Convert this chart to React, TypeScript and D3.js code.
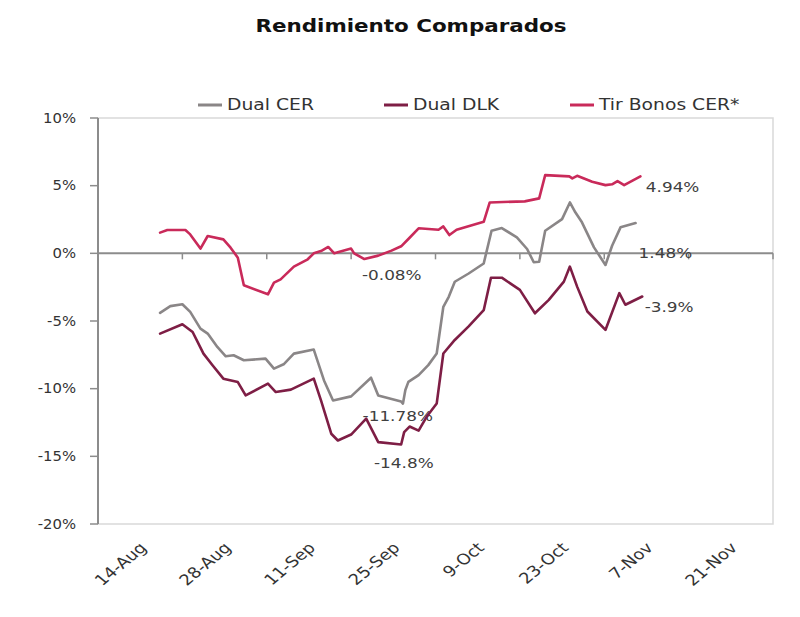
import React from 'react';
import * as d3 from 'd3';

// x values are days counted from 14-Aug
const xTickLabels = ['14-Aug', '28-Aug', '11-Sep', '25-Sep', '9-Oct', '23-Oct', '7-Nov', '21-Nov'];
const yTickValues = [10, 5, 0, -5, -10, -15, -20];

const tirDays = [3.3, 4.5, 7.5, 8.3, 10, 11.2, 13.8, 15, 16.2, 17.2, 21.2, 22.2, 23.3, 25.5, 27.8, 28.8, 30, 31.2, 32.2, 35, 35.5, 37.2, 39.5, 41.7, 43.3, 44.5, 46.2, 49.5, 50.3, 51.3, 52.5, 57, 58, 63.8, 66.2, 67.2, 71.2, 71.7, 72.5, 75, 77.2, 78.3, 79.2, 80.3, 83];
const tirValues = [1.53, 1.72, 1.72, 1.4, 0.35, 1.28, 1.03, 0.42, -0.32, -2.36, -3.03, -2.16, -1.92, -0.98, -0.44, 0, 0.17, 0.47, 0, 0.35, 0, -0.42, -0.17, 0.2, 0.52, 1.06, 1.85, 1.74, 1.99, 1.35, 1.74, 2.33, 3.76, 3.84, 4.06, 5.78, 5.69, 5.54, 5.73, 5.29, 5.04, 5.1, 5.34, 5.04, 5.69];

const cerDays = [3.3, 5, 7, 8.3, 10, 11.2, 12.8, 14.2, 15.5, 17.2, 20.8, 22.2, 23.8, 25.5, 28.8, 30.5, 32, 35, 38.3, 39.5, 43.3, 43.6, 44, 44.5, 46.2, 47.8, 49.2, 50.3, 51.2, 52.2, 54.5, 57, 58.3, 60, 62.5, 64.2, 65.3, 66.2, 67.2, 70, 71.3, 72.2, 73.3, 75.3, 77.2, 78.3, 79.7, 82.2];
const cerValues = [-4.4, -3.9, -3.76, -4.33, -5.56, -5.93, -6.92, -7.61, -7.53, -7.9, -7.78, -8.52, -8.2, -7.41, -7.11, -9.39, -10.87, -10.57, -9.19, -10.5, -10.95, -11.1, -10.1, -9.5, -9.0, -8.26, -7.4, -3.95, -3.21, -2.1, -1.49, -0.75, 1.67, 1.87, 1.18, 0.32, -0.66, -0.62, 1.67, 2.53, 3.76, 3.03, 2.29, 0.44, -0.86, 0.56, 1.92, 2.24];

const dlkDays = [3.3, 7, 8.7, 10.5, 12, 13.8, 16.2, 17.5, 21.2, 22.5, 25, 28.8, 30, 31.7, 32.8, 35, 37.5, 39.5, 43.3, 43.8, 44.7, 46.2, 47.5, 49.2, 50.3, 52.2, 54.5, 57, 58.2, 60, 63, 65.5, 67.8, 70.3, 71.3, 72.5, 74.2, 77.2, 79.5, 80.5, 83.3];
const dlkValues = [-5.93, -5.24, -5.81, -7.41, -8.27, -9.26, -9.51, -10.5, -9.63, -10.25, -10.07, -9.26, -10.87, -13.33, -13.83, -13.39, -12.22, -13.95, -14.13, -13.21, -12.8, -13.1, -12.1, -11.1, -7.4, -6.4, -5.4, -4.2, -1.8, -1.8, -2.7, -4.43, -3.44, -2.09, -0.98, -2.46, -4.3, -5.66, -2.94, -3.8, -3.19];

const seriesNames = ['Dual CER', 'Dual DLK', 'Tir Bonos CER*'];
const seriesColors = ['#8a8687', '#7e1e45', '#c92a5a'];

const annotationTexts = ['4.94%', '1.48%', '-3.9%', '-0.08%', '-11.78%', '-14.8%'];
const annotationDays = [83.9, 82.7, 83.7, 36.8, 36.9, 38.8];
const annotationValues = [4.9, 0, -3.95, -1.6, -12.0, -15.5];

const FONT = '"DejaVu Sans", "Noto Sans", sans-serif';
const SX = 1.25; // horizontal stretch of the text glyphs

type STextProps = {
  x: number;
  y: number;
  sx?: number;
  anchor?: 'start' | 'middle' | 'end';
  size: number;
  weight?: number;
  fill?: string;
  ls?: number;
  children: React.ReactNode;
};

function SText({ x, y, sx = SX, anchor = 'start', size, weight = 400, fill = '#333', ls = 0, children }: STextProps) {
  return (
    <text
      transform={`translate(${x},${y}) scale(${sx},1)`}
      textAnchor={anchor}
      fontSize={size}
      fontWeight={weight}
      fill={fill}
      letterSpacing={ls}
    >
      {children}
    </text>
  );
}

export default function App() {
  const W = 800;
  const H = 617;
  const left = 98;
  const right = 773;
  const top = 118;
  const bottom = 524;

  const x = d3.scaleLinear().domain([-7, 105]).range([left, right]);
  const y = d3.scaleLinear().domain([-20, 10]).range([bottom, top]);

  const line = d3
    .line<[number, number]>()
    .x((d) => x(d[0]))
    .y((d) => y(d[1]));

  const series: [number, number][][] = [
    cerDays.map((d, i) => [d, cerValues[i]] as [number, number]),
    dlkDays.map((d, i) => [d, dlkValues[i]] as [number, number]),
    tirDays.map((d, i) => [d, tirValues[i]] as [number, number]),
  ];

  const tickDays = d3.range(0, 9).map((k) => -7 + 14 * k);
  const legendX = [198, 384, 570];

  return (
    <svg
      width={W}
      height={H}
      style={{ position: 'absolute', left: 0, top: 0, background: '#ffffff' }}
      fontFamily={FONT}
    >
      <rect x={0} y={0} width={W} height={H} fill="#ffffff" />
      {/* title */}
      <SText x={411} y={32} anchor="middle" size={18} weight={900} fill="#111" sx={1.19}>
        Rendimiento Comparados
      </SText>

      {/* legend */}
      {seriesNames.map((n, i) => (
        <g key={n}>
          <line x1={legendX[i]} x2={legendX[i] + 24} y1={105} y2={105} stroke={seriesColors[i]} strokeWidth={3} />
          <SText x={legendX[i] + 29} y={110} size={15} fill="#333">
            {n}
          </SText>
        </g>
      ))}

      {/* plot border */}
      <rect x={left} y={top} width={right - left} height={bottom - top} fill="none" stroke="#d9d9d9" strokeWidth={1.5} />

      {/* y axis */}
      <line x1={left} x2={left} y1={top} y2={bottom} stroke="#8c8c8c" strokeWidth={2} />
      {yTickValues.map((v) => (
        <g key={v}>
          <line x1={left - 8} x2={left} y1={y(v)} y2={y(v)} stroke="#8c8c8c" strokeWidth={1.5} />
          <SText x={76} y={y(v) + 4.8} anchor="end" size={13.5} sx={1.1} fill="#333">
            {v + '%'}
          </SText>
        </g>
      ))}

      {/* zero axis line with ticks */}
      <line x1={left} x2={right} y1={y(0)} y2={y(0)} stroke="#8c8c8c" strokeWidth={2} />
      {tickDays.map((d) => (
        <line key={d} x1={x(d)} x2={x(d)} y1={y(0)} y2={y(0) + 6} stroke="#8c8c8c" strokeWidth={1.5} />
      ))}

      {/* x labels */}
      {xTickLabels.map((l, i) => (
        <text
          key={l}
          transform={`translate(${x(14 * i) + 3},${545}) scale(1.2,1) rotate(-45)`}
          textAnchor="end"
          dy="0.35em"
          fontSize={15}
          fill="#333"
        >
          {l}
        </text>
      ))}

      {/* annotations */}
      {annotationTexts.map((t, i) => (
        <SText key={t} x={x(annotationDays[i])} y={y(annotationValues[i]) + 4.8} size={13.5} fill="#404040">
          {t}
        </SText>
      ))}

      {/* series */}
      {series.map((s, i) => (
        <path
          key={i}
          d={line(s) || ''}
          fill="none"
          stroke={seriesColors[i]}
          strokeWidth={2.6}
          strokeLinejoin="round"
          strokeLinecap="round"
        />
      ))}
    </svg>
  );
}
